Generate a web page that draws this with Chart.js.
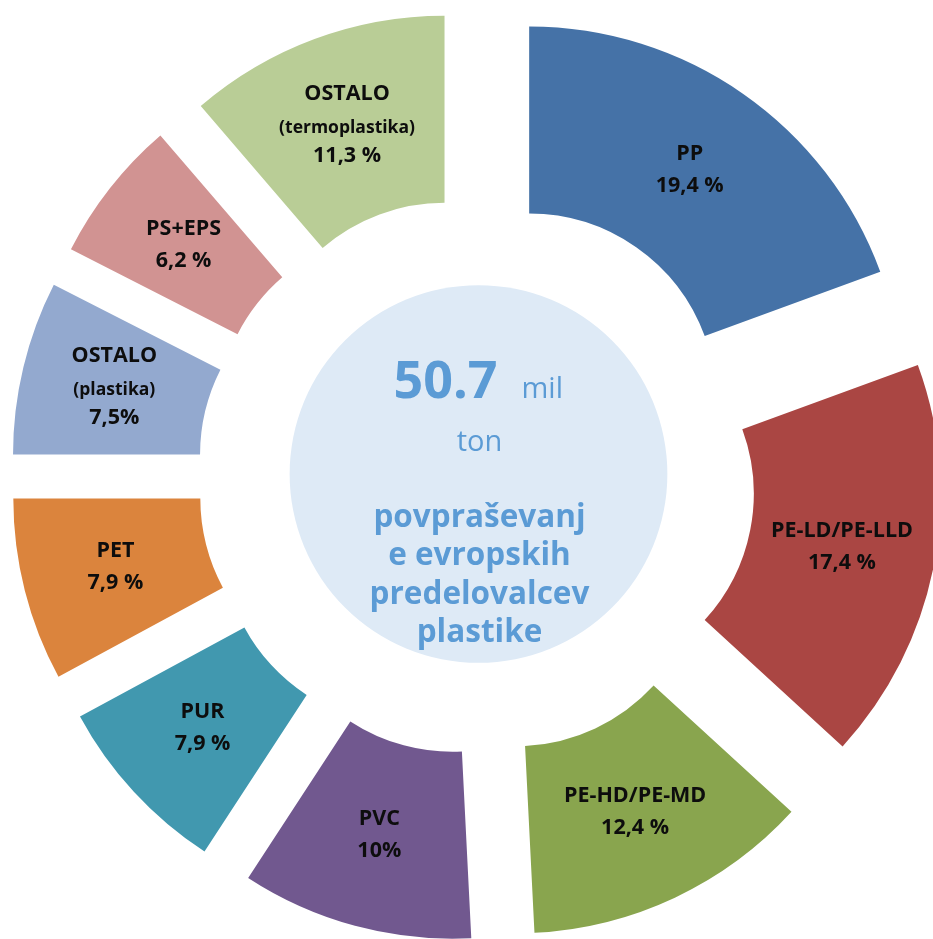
<!DOCTYPE html>
<html lang="sl">
<head>
<meta charset="utf-8">
<title>Povpraševanje evropskih predelovalcev plastike</title>
<script src="https://cdn.jsdelivr.net/npm/chart.js@4.4.1/dist/chart.umd.min.js"></script>
<style>
  html, body { margin: 0; padding: 0; background: #fff; }
  #wrap { width: 933px; height: 939px; position: relative; }
</style>
</head>
<body>
<div id="wrap"><canvas id="chartPlastika"></canvas></div>
<script>
// Podatki
const categories = ["PP", "PE-LD/PE-LLD", "PE-HD/PE-MD", "PVC", "PUR", "PET", "OSTALO", "PS+EPS", "OSTALO"];
const subLabels = ["", "", "", "", "", "", "(plastika)", "", "(termoplastika)"];
const shares = [19.4, 17.4, 12.4, 10, 7.9, 7.9, 7.5, 6.2, 11.3];
const shareLabels = ["19,4 %", "17,4 %", "12,4 %", "10%", "7,9 %", "7,9 %", "7,5%", "6,2 %", "11,3 %"];
const colors = ["#4572A7", "#AA4643", "#89A54E", "#71588F", "#4198AF", "#DB843D", "#93A9CF", "#D19392", "#B9CD96"];
const totalValue = "50.7";
const totalUnit = "mil";
const totalUnit2 = "ton";
const centerLines = ["povpraševanj", "e evropskih", "predelovalcev", "plastike"];

(function () {
  const EXPLODE = 92; // razmik izrezov od središča
  const BLUE = "#5B9BD5";
  const FONT = '"Open Sans"';

  const center = (chart) => {
    const a = chart.chartArea;
    return { x: (a.left + a.right) / 2, y: (a.top + a.bottom) / 2 };
  };

  // premakne vsak izrez navzven po njegovi srednji smeri
  const explodePlugin = {
    id: "explode",
    beforeDatasetsDraw(chart) {
      const c = center(chart);
      const meta = chart.getDatasetMeta(0);
      meta.data.forEach((arc) => {
        const mid = (arc.startAngle + arc.endAngle) / 2;
        arc.x = c.x + Math.cos(mid) * EXPLODE;
        arc.y = c.y + Math.sin(mid) * EXPLODE;
      });

      // svetlo modri krog v sredini
      const inner = meta.data[0].innerRadius;
      const ctx = chart.ctx;
      ctx.save();
      ctx.beginPath();
      ctx.arc(c.x + 2, c.y - 2, inner * 1.01, 0, Math.PI * 2);
      ctx.fillStyle = "#DEEAF6";
      ctx.fill();
      ctx.restore();
    },
  };

  const labelsPlugin = {
    id: "segmentLabels",
    afterDatasetsDraw(chart) {
      const ctx = chart.ctx;
      const meta = chart.getDatasetMeta(0);
      ctx.save();
      ctx.fillStyle = "#0d0d0d";
      ctx.textAlign = "center";
      ctx.textBaseline = "middle";
      meta.data.forEach((arc, i) => {
        const p = arc.getCenterPoint();
        if (subLabels[i]) {
          ctx.font = `bold 21.5px ${FONT}`;
          ctx.fillText(categories[i], p.x, p.y - 33);
          ctx.font = `bold 17.5px ${FONT}`;
          ctx.fillText(subLabels[i], p.x, p.y + 1);
          ctx.font = `bold 21.5px ${FONT}`;
          ctx.fillText(shareLabels[i], p.x, p.y + 29);
        } else {
          ctx.font = `bold 21.5px ${FONT}`;
          ctx.fillText(categories[i], p.x, p.y - 17);
          ctx.fillText(shareLabels[i], p.x, p.y + 15);
        }
      });

      // besedilo v sredini
      const c = center(chart);
      ctx.fillStyle = BLUE;
      ctx.textBaseline = "alphabetic";
      ctx.textAlign = "right";
      ctx.font = `bold 52px ${FONT}`;
      ctx.fillText(totalValue, c.x + 21, c.y - 78);
      ctx.textAlign = "left";
      ctx.font = `29px ${FONT}`;
      ctx.fillText(totalUnit, c.x + 45, c.y - 78);
      ctx.textAlign = "center";
      ctx.fillText(totalUnit2, c.x + 3, c.y - 25);
      ctx.font = `bold 31.5px ${FONT}`;
      centerLines.forEach((line, k) => {
        ctx.fillText(line, c.x + 3, c.y + 51 + k * 38.3);
      });
      ctx.restore();
    },
  };

  const render = () => {
    const canvas = document.getElementById("chartPlastika");
    if (typeof Chart === "undefined") {
      console.error("Chart.js se ni naložil.");
      return;
    }
    new Chart(canvas.getContext("2d"), {
      type: "doughnut",
      data: {
        labels: categories.map((c, i) => (subLabels[i] ? c + " " + subLabels[i] : c)),
        datasets: [
          {
            data: shares,
            backgroundColor: colors,
            borderWidth: 0,
            hoverOffset: 0,
            clip: false,
          },
        ],
      },
      options: {
        responsive: true,
        maintainAspectRatio: false,
        animation: false,
        radius: 374,
        cutout: "50%",
        layout: { padding: { left: 20, top: 13, right: 0, bottom: 0 } },
        plugins: {
          legend: { display: false },
          tooltip: { enabled: false },
        },
        events: [],
      },
      plugins: [explodePlugin, labelsPlugin],
    });
  };

  const start = () => {
    if (document.fonts && document.fonts.load) {
      Promise.all([
        document.fonts.load('bold 20px "Open Sans"'),
        document.fonts.load('27px "Open Sans"'),
      ]).then(render, render);
    } else {
      render();
    }
  };

  document.readyState !== "loading" ? start() : document.addEventListener("DOMContentLoaded", start);
})();
</script>
</body>
</html>
